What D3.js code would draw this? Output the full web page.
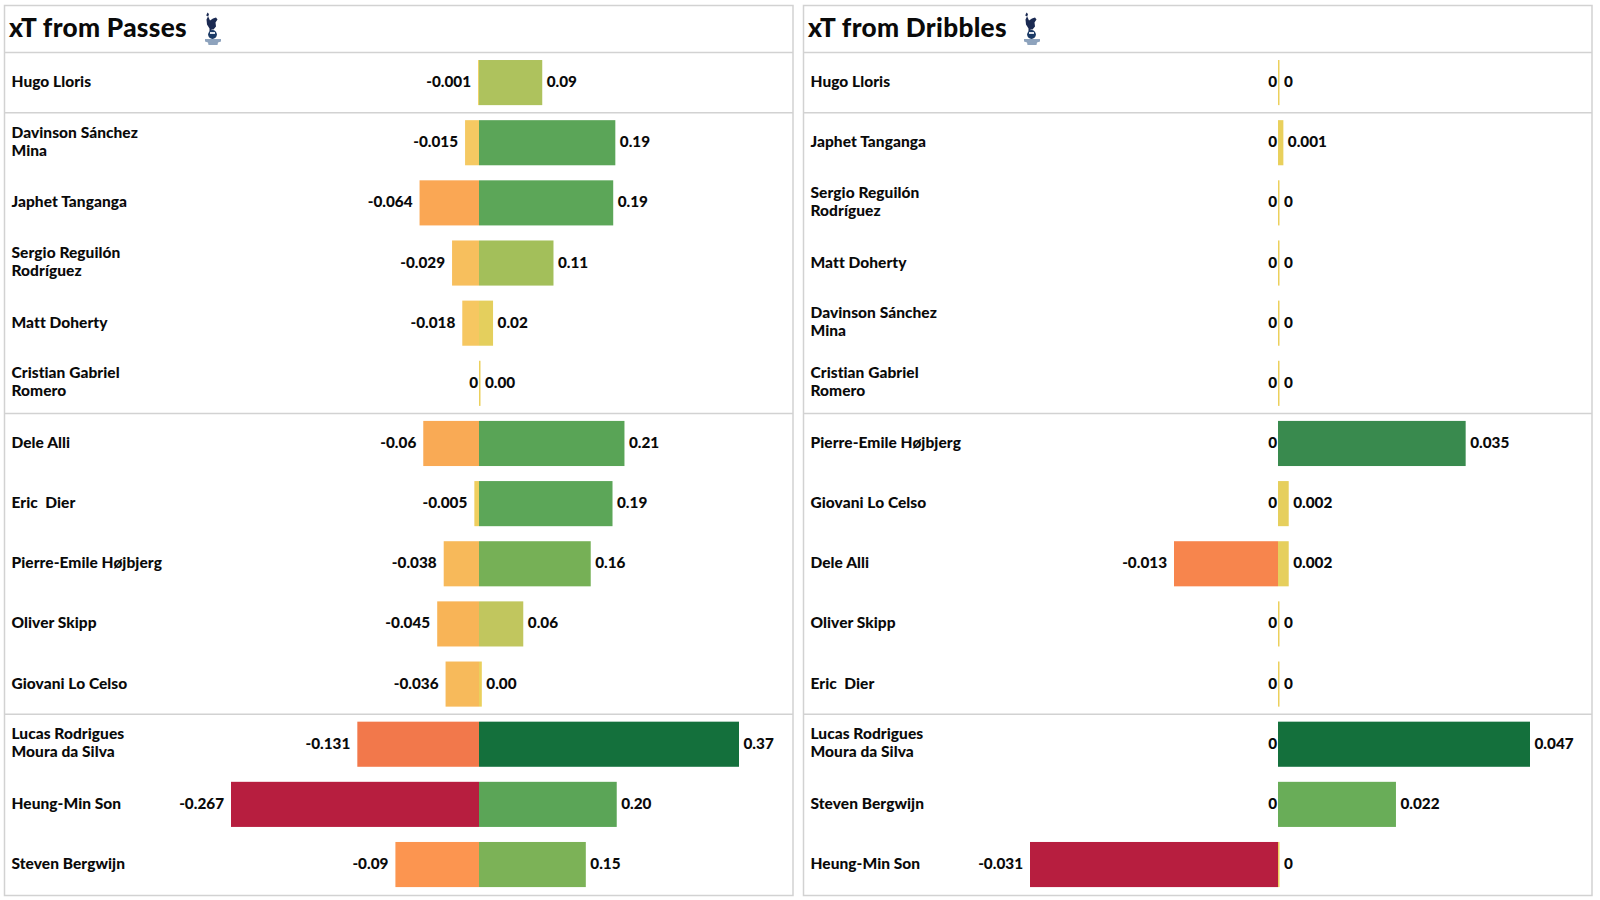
<!DOCTYPE html>
<html>
<head>
<meta charset="utf-8">
<script src="https://d3js.org/d3.v7.min.js"></script>
<style>
  html, body { margin: 0; padding: 0; background: #fff; }
  svg { display: block; }
  text { font-family: Lato, "Noto Sans", sans-serif; fill: #0a0a0a; }
  .title { font-size: 26.2px; font-weight: 900; letter-spacing: 0.3px; }
  .name { font-size: 15.5px; font-weight: 900; letter-spacing: 0.05px; }
  .val { font-size: 15.3px; font-weight: 900; }
</style>
</head>
<body>
<svg id="chart"></svg>
<script>
let passNames = ['Hugo Lloris', 'Davinson Sánchez\nMina', 'Japhet Tanganga', 'Sergio Reguilón\nRodríguez', 'Matt Doherty',
  'Cristian Gabriel\nRomero', 'Dele Alli', 'Eric  Dier', 'Pierre-Emile Højbjerg', 'Oliver Skipp', 'Giovani Lo Celso',
  'Lucas Rodrigues\nMoura da Silva', 'Heung-Min Son', 'Steven Bergwijn'];
let passNeg = [-0.001, -0.015, -0.064, -0.029, -0.018, 0, -0.06, -0.005, -0.038, -0.045, -0.036, -0.131, -0.267, -0.09];
let passPos = [0.09, 0.194, 0.191, 0.106, 0.02, 0.002, 0.207, 0.19, 0.159, 0.063, 0.004, 0.37, 0.196, 0.152];

let dribbleNames = ['Hugo Lloris', 'Japhet Tanganga', 'Sergio Reguilón\nRodríguez', 'Matt Doherty', 'Davinson Sánchez\nMina',
  'Cristian Gabriel\nRomero', 'Pierre-Emile Højbjerg', 'Giovani Lo Celso', 'Dele Alli', 'Oliver Skipp', 'Eric  Dier',
  'Lucas Rodrigues\nMoura da Silva', 'Steven Bergwijn', 'Heung-Min Son'];
let dribbleNeg = [0, 0, 0, 0, 0, 0, 0, 0, -0.013, 0, 0, 0, 0, -0.031];
let dribblePos = [0, 0.001, 0, 0, 0, 0, 0.035, 0.002, 0.002, 0, 0, 0.047, 0.022, 0];

let groupEnds = [1, 6, 11];

let negStops = [0, 0.06, 0.17, 0.34, 0.49, 1];
let negColors = ['#ecd05c', '#f6c862', '#f8b457', '#fc9450', '#f2784b', '#b71e3f'];
let posStops = [0, 0.06, 0.16, 0.25, 0.3, 0.41, 0.43, 0.47, 0.51, 0.57, 0.75, 1];
let posColors = ['#ecd05c', '#e3cf5d', '#c4c65e', '#acc25d', '#a0be59', '#7cb257', '#76b056', '#68ad58', '#5ca658', '#58a356', '#38894e', '#14703c'];

let svg = d3.select('#chart').attr('width', 1600).attr('height', 900);

let rowsTop = 52.5, rowH = 60.15;
let y = d3.scaleBand().domain(d3.range(14)).range([rowsTop, rowsTop + rowH * 14]).paddingInner(0.25).paddingOuter(0.125);

let negColor = d3.scaleLinear().domain(negStops).range(negColors);
let posColor = d3.scaleLinear().domain(posStops).range(posColors);

function drawLogo(g) {
  // rough spurs cockerel on its ball
  g.append('path').attr('fill', '#1b2a52')
    .attr('d', 'M2.5 0 L4 1.5 L3.2 4 L5 8 L8 6 L11 5 L12.5 7 L10.5 10 L11 14 L8.5 17 L6.5 17 L6.5 19 L4.5 19 L4.5 16 L2 12 L1.5 7 L3 4 L1.2 3 Z');
  g.append('circle').attr('cx', 7.5).attr('cy', 22).attr('r', 4.4).attr('fill', '#1b3a66');
  g.append('path').attr('fill', '#dfe5ee').attr('d', 'M5 19.5 h5 v2 h-5 Z');
  g.append('path').attr('fill', '#8ea3bd')
    .attr('d', 'M0 26.5 L16 26.5 L16 29 L13 30 L12.5 32.5 L3.5 32.5 L3 30 L0 29 Z');
}

function drawPanel(cfg) {
  let g = svg.append('g');
  let left = cfg.left, right = cfg.left + 788.5;

  let xNeg = d3.scaleLinear().domain([d3.min(cfg.neg), 0]).range([cfg.minX, cfg.zero]);
  let xPos = d3.scaleLinear().domain([0, d3.max(cfg.pos)]).range([cfg.zero, cfg.maxX]);
  let minV = d3.min(cfg.neg), maxV = d3.max(cfg.pos);

  g.append('rect').attr('x', left).attr('y', 5.5).attr('width', right - left).attr('height', 890)
    .attr('fill', 'none').attr('stroke', '#d2d2d2').attr('stroke-width', 1.5);

  g.selectAll('.sep').data([0].concat(groupEnds)).join('line').attr('class', 'sep')
    .attr('x1', left).attr('x2', right)
    .attr('y1', d => rowsTop + d * rowH).attr('y2', d => rowsTop + d * rowH)
    .attr('stroke', '#d2d2d2').attr('stroke-width', 1.5);

  g.append('text').attr('class', 'title').attr('x', cfg.titleX).attr('y', 36.5).text(cfg.title);
  drawLogo(g.append('g').attr('transform', `translate(${cfg.logoX},12.5)`));

  // names, the two line ones are split by hand in the arrays
  let names = g.selectAll('.name').data(cfg.names).join('text').attr('class', 'name')
    .attr('x', left + 7)
    .attr('y', (d, i) => y(i) + y.bandwidth() / 2 + 4.5);
  names.each(function (d) {
    let lines = d.split('\n');
    d3.select(this).selectAll('tspan').data(lines).join('tspan')
      .style('white-space', 'pre')
      .attr('x', left + 7)
      .attr('dy', (l, k) => k == 0 ? (lines.length > 1 ? -9.5 : 0) : 18)
      .text(l => l);
  });

  g.selectAll('.neg').data(cfg.neg).join('rect').attr('class', 'neg')
    .attr('x', d => d == 0 ? cfg.zero : xNeg(d))
    .attr('y', (d, i) => y(i))
    .attr('width', d => d == 0 ? 0 : cfg.zero - xNeg(d))
    .attr('height', y.bandwidth())
    .attr('fill', d => negColor(d / minV));

  g.selectAll('.pos').data(cfg.pos).join('rect').attr('class', 'pos')
    .attr('x', cfg.zero)
    .attr('y', (d, i) => y(i))
    .attr('width', d => Math.max(1.5, xPos(d) - cfg.zero))
    .attr('height', y.bandwidth())
    .attr('fill', d => posColor(d / maxV));

  g.selectAll('.negval').data(cfg.neg).join('text').attr('class', 'val negval')
    .attr('text-anchor', 'end')
    .attr('x', d => d == 0 ? cfg.zero - 1 : xNeg(d) - 7)
    .attr('y', (d, i) => y(i) + y.bandwidth() / 2 + 4.5)
    .text(d => d);

  g.selectAll('.posval').data(cfg.pos).join('text').attr('class', 'val posval')
    .attr('x', d => d == 0 ? cfg.zero + 6 : xPos(d) + 4.5)
    .attr('y', (d, i) => y(i) + y.bandwidth() / 2 + 4.5)
    .text(d => cfg.fmt(d));
}

drawPanel({ title: 'xT from Passes', names: passNames, neg: passNeg, pos: passPos, left: 4.5, titleX: 9, logoX: 205,
  zero: 479, minX: 231, maxX: 739, fmt: d => d.toFixed(2) });
drawPanel({ title: 'xT from Dribbles', names: dribbleNames, neg: dribbleNeg, pos: dribblePos, left: 803.5, titleX: 808, logoX: 1024,
  zero: 1278, minX: 1030, maxX: 1530, fmt: d => d });
</script>
</body>
</html>
